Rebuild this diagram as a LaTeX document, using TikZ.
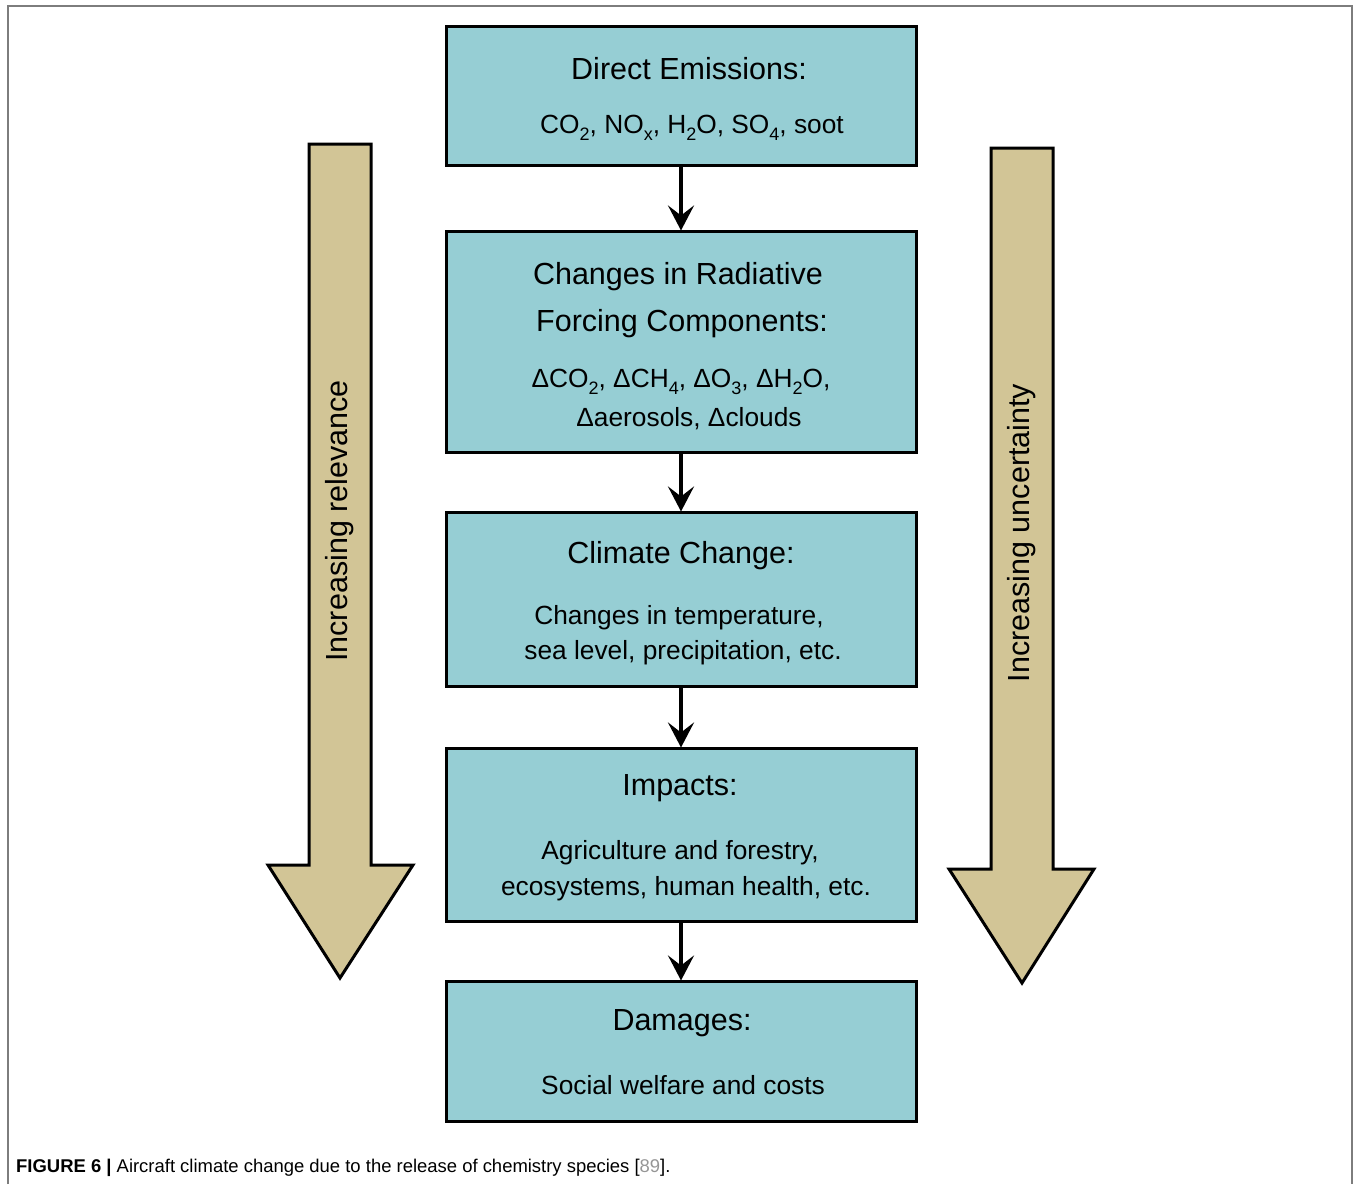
\documentclass[tikz,border=0pt]{standalone}
\usepackage{fontspec}
\setmainfont{Liberation Sans}
\usetikzlibrary{arrows.meta}
\definecolor{boxfill}{RGB}{150,206,212}
\definecolor{bigarrow}{RGB}{210,197,150}
\definecolor{framegray}{RGB}{125,125,125}
\definecolor{refgray}{RGB}{150,150,150}
% lowered chemical index
\newcommand{\chemsub}[1]{\raisebox{-7pt}{\fontsize{18}{18}\selectfont #1}}
\begin{document}
\begin{tikzpicture}[x=1pt,y=-1pt,
  stagebox/.style={draw=black, line width=3pt, fill=boxfill, minimum width=470pt, inner sep=0pt},
  headtext/.style={font=\fontsize{30.5}{34}\selectfont, inner sep=0pt, anchor=center},
  bodytext/.style={font=\fontsize{26.3}{30}\selectfont, inner sep=0pt, anchor=center},
  flow/.style={line width=4pt, -{Stealth[length=25pt, width=26pt, inset=10pt]}, shorten >=-1pt},
  trend/.style={draw=black, line width=3pt, fill=bigarrow, line join=miter},
  trendtext/.style={font=\fontsize{30.5}{34}\selectfont, rotate=90, inner sep=0pt, anchor=center}]
\useasboundingbox (0,0) rectangle (1354,1184);

% open frame around the figure
\draw[framegray, line width=1.5pt] (8,1184) -- (8,6) -- (1352,6) -- (1352,1184);

% side trend arrows
\draw[trend] (309,144) -- (371,144) -- (371,865) -- (413,865) -- (340,978)
  -- (268,865) -- (309,865) -- cycle;
\node[trendtext] (relevance) at (340,521) {Increasing relevance};

\draw[trend] (991,148) -- (1053,148) -- (1053,869) -- (1094,869) -- (1022,983)
  -- (949,869) -- (991,869) -- cycle;
\node[trendtext] (uncertainty) at (1022,533) {Increasing uncertainty};

% stage boxes
\node[stagebox, minimum height=139pt] (emis) at (681,95.5) {};
\node[stagebox, minimum height=221pt] (forcing) at (681,341.5) {};
\node[stagebox, minimum height=174pt] (climate) at (681,599) {};
\node[stagebox, minimum height=173pt] (impacts) at (681,834.5) {};
\node[stagebox, minimum height=140pt] (damages) at (681,1051) {};

% box texts
\node[headtext] (emisT) at (689,69) {Direct Emissions:};
\node[bodytext] (emisB) at (692,128) {CO\chemsub{2}, NO\chemsub{x}, H\chemsub{2}O, SO\chemsub{4}, soot};

\node[headtext] (forcT1) at (678,277) {Changes in Radiative};
\node[headtext] (forcT2) at (682,324) {Forcing Components:};
\node[bodytext] (forcB1) at (681,382) {ΔCO\chemsub{2}, ΔCH\chemsub{4}, ΔO\chemsub{3}, ΔH\chemsub{2}O,};
\node[bodytext] (forcB2) at (689,419) {Δaerosols, Δclouds};

\node[headtext] (climT) at (681,556) {Climate Change:};
\node[bodytext] (climB1) at (679,618) {Changes in temperature,};
\node[bodytext] (climB2) at (683,653) {sea level, precipitation, etc.};

\node[headtext] (impT) at (680,788) {Impacts:};
\node[bodytext] (impB1) at (680,853) {Agriculture and forestry,};
\node[bodytext] (impB2) at (686,889) {ecosystems, human health, etc.};

\node[headtext] (dmgT) at (682,1023) {Damages:};
\node[bodytext] (dmgB) at (683,1085) {Social welfare and costs};

% flow connectors
\draw[flow] (emis.south) -- (forcing.north);
\draw[flow] (forcing.south) -- (climate.north);
\draw[flow] (climate.south) -- (impacts.north);
\draw[flow] (impacts.south) -- (damages.north);

% caption
\node[anchor=west, inner sep=0pt, font=\fontsize{18.45}{20}\selectfont] (caption) at (16,1168)
  {\textbf{FIGURE 6 |} Aircraft climate change due to the release of chemistry species [{\color{refgray}89}].};
\end{tikzpicture}
\end{document}
